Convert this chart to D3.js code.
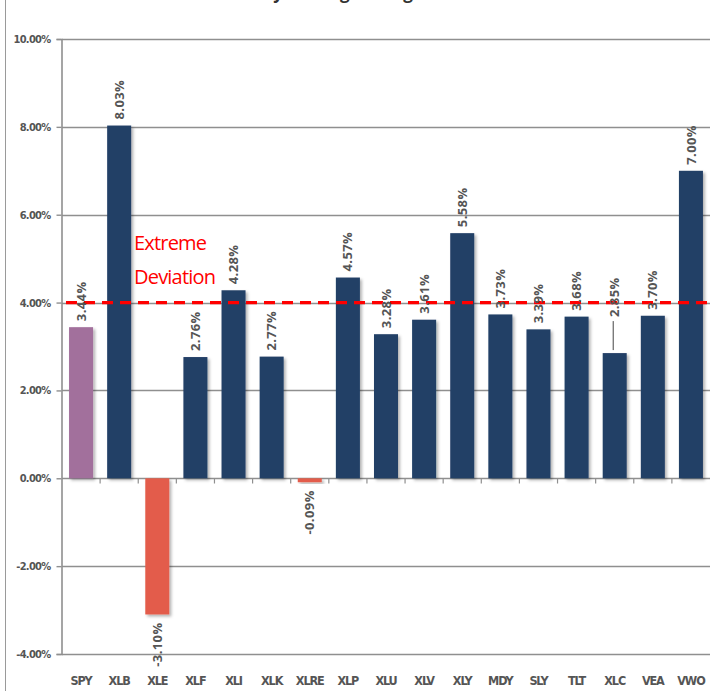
<!DOCTYPE html>
<html>
<head>
<meta charset="utf-8">
<script src="https://cdn.jsdelivr.net/npm/d3@7"></script>
<style>
    html, body { margin: 0; padding: 0; background: #fff; overflow: hidden; }
</style>
</head>
<body>
<div id="chart"></div>
<script>
/**
 * Weekly deviation bar chart, rendered with D3.js
 */

const tickers = ["SPY", "XLB", "XLE", "XLF", "XLI", "XLK", "XLRE", "XLP", "XLU",
    "XLV", "XLY", "MDY", "SLY", "TLT", "XLC", "VEA", "VWO"];
const deviation = [3.44, 8.03, -3.10, 2.76, 4.28, 2.77, -0.09, 4.57, 3.28,
    3.61, 5.58, 3.73, 3.39, 3.68, 2.85, 3.70, 7.00];
const yTicks = [-4, -2, 0, 2, 4, 6, 8, 10];
const extremeLevel = 4;
const titleText = "Weekly Moving Average";

const width = 710, height = 691;
const margin = { top: 39, left: 62, right: 0, bottom: 37 };

const colors = { benchmark: "#a2709c", up: "#213f66", down: "#e35c4b" };

// plain hyphen for negatives, like the spreadsheet labels
const pct = d => d3.format(".2f")(d).replace("\u2212", "-") + "%";

const svg = d3.select("#chart")
    .append("svg")
    .attr("width", width)
    .attr("height", height)
    .style("display", "block");

// soft drop shadow like the spreadsheet bars
const shadow = svg.append("defs").append("filter")
    .attr("id", "shadow")
    .attr("x", "-30%").attr("y", "-10%")
    .attr("width", "160%").attr("height", "130%");
shadow.append("feDropShadow")
    .attr("dx", 2).attr("dy", 2)
    .attr("stdDeviation", 1.6)
    .attr("flood-color", "#000")
    .attr("flood-opacity", 0.3);

const x = d3.scaleBand()
    .domain(tickers)
    .range([margin.left, width - margin.right])
    .paddingInner(0.37)
    .paddingOuter(0.185);

const y = d3.scaleLinear()
    .domain([d3.min(yTicks), d3.max(yTicks)])
    .range([height - margin.bottom, margin.top]);

// outer frame line on the left
svg.append("line")
    .attr("x1", 5.5).attr("x2", 5.5)
    .attr("y1", 0).attr("y2", height)
    .attr("stroke", "#9a9a9a")
    .attr("stroke-width", 1);

// title, cut off at the top edge as in the original
svg.append("text")
    .attr("x", 322)
    .attr("y", -1)
    .attr("text-anchor", "middle")
    .style("font-family", "'Open Sans', sans-serif")
    .style("font-weight", "bold")
    .style("font-size", "17px")
    .style("fill", "#333")
    .text(titleText);

function renderGrid() {
    svg.append("g")
        .attr("class", "grid")
        .selectAll("line")
        .data(yTicks)
        .enter().append("line")
        .attr("x1", margin.left)
        .attr("x2", width)
        .attr("y1", d => Math.round(y(d)) + 0.5)
        .attr("y2", d => Math.round(y(d)) + 0.5)
        .attr("stroke", "#8f8f8f")
        .attr("stroke-width", 1.6);
}

function renderYAxis() {
    const axis = svg.append("g")
        .attr("transform", `translate(${margin.left - 0.5},0)`)
        .call(d3.axisLeft(y)
            .tickValues(yTicks)
            .tickSize(5)
            .tickPadding(6)
            .tickFormat(pct));
    axis.select(".domain").attr("stroke", "#8f8f8f").attr("stroke-width", 1.6);
    axis.selectAll(".tick line").attr("stroke", "#8f8f8f").attr("stroke-width", 1.4);
    axis.selectAll(".tick text")
        .style("font-family", "'DejaVu Sans Condensed', 'DejaVu Sans', sans-serif")
        .style("font-weight", "bold")
        .style("font-size", "11px")
        .style("letter-spacing", "-0.7px")
        .style("fill", "#555");
}

function renderXAxis() {
    const zero = Math.round(y(0)) + 0.5;
    // small tick marks between categories on the zero line
    svg.append("g")
        .selectAll("line")
        .data(tickers.slice(1))
        .enter().append("line")
        .attr("x1", d => x(d) - x.step() * x.paddingInner() / 2)
        .attr("x2", d => x(d) - x.step() * x.paddingInner() / 2)
        .attr("y1", zero)
        .attr("y2", zero + 5)
        .attr("stroke", "#8f8f8f")
        .attr("stroke-width", 1.2);

    svg.append("g")
        .selectAll("text")
        .data(tickers)
        .enter().append("text")
        .attr("x", d => x(d) + x.bandwidth() / 2)
        .attr("y", height - 6)
        .attr("text-anchor", "middle")
        .style("font-family", "'DejaVu Sans Condensed', 'DejaVu Sans', sans-serif")
        .style("font-weight", "bold")
        .style("font-size", "12.5px")
        .style("letter-spacing", "-1.1px")
        .style("fill", "#555")
        .text(d => d);
}

function barColor(d, i) {
    if (i === 0) return colors.benchmark;
    return d < 0 ? colors.down : colors.up;
}

function renderBars() {
    svg.append("g")
        .attr("class", "bars")
        .selectAll("rect")
        .data(deviation)
        .enter().append("rect")
        .attr("x", (d, i) => x(tickers[i]))
        .attr("y", d => y(Math.max(0, d)))
        .attr("width", x.bandwidth())
        .attr("height", d => Math.max(2, Math.abs(y(d) - y(0))))
        .attr("fill", barColor)
        .attr("filter", "url(#shadow)");
}

function renderExtremeLine() {
    svg.append("line")
        .attr("x1", margin.left + 4)
        .attr("x2", width)
        .attr("y1", y(extremeLevel))
        .attr("y2", y(extremeLevel))
        .attr("stroke", "#ff0000")
        .attr("stroke-width", 3.2)
        .attr("stroke-dasharray", "11,7");

    const note = svg.append("text")
        .attr("x", 134)
        .attr("y", 250)
        .style("font-family", "'Open Sans', sans-serif")
        .style("font-size", "20px")
        .style("letter-spacing", "-0.8px")
        .style("fill", "#ff0000");
    note.append("tspan").attr("x", 134).text("Extreme");
    note.append("tspan").attr("x", 134).attr("dy", 34).text("Deviation");
}

function renderLabels() {
    // XLC label was nudged upward with a leader line in the original
    const lifted = { XLC: 30 };
    const g = svg.append("g").attr("class", "labels");

    deviation.forEach((d, i) => {
        const name = tickers[i];
        const cx = x(name) + x.bandwidth() / 2;
        const lift = lifted[name] || 0;
        const yStart = d >= 0 ? y(d) - 6 - lift : y(Math.min(d, -0.09)) + 8;

        g.append("text")
            .attr("transform", `translate(${cx},${yStart}) rotate(-90)`)
            .attr("dy", "0.35em")
            .attr("text-anchor", d >= 0 ? "start" : "end")
            .style("font-family", "'Open Sans', sans-serif")
            .style("font-weight", "bold")
            .style("font-size", "13px")
            .style("letter-spacing", "0.4px")
            .style("fill", "#555")
            .text(pct(d));

        if (lift) {
            g.append("line")
                .attr("x1", cx - 1.5).attr("x2", cx - 1.5)
                .attr("y1", yStart + 4)
                .attr("y2", y(d) - 3)
                .attr("stroke", "#444")
                .attr("stroke-width", 1);
        }
    });
}

renderGrid();
renderYAxis();
renderBars();
renderXAxis();
renderExtremeLine();
renderLabels();
</script>
</body>
</html>
